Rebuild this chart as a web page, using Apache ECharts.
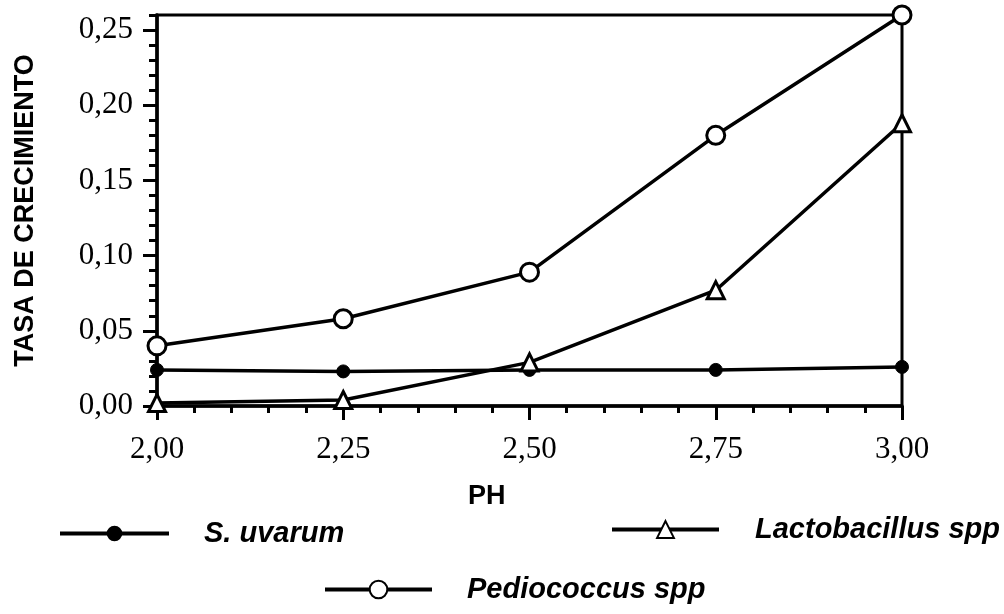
<!DOCTYPE html>
<html>
<head>
<meta charset="utf-8">
<script src="https://cdn.jsdelivr.net/npm/echarts@6/dist/echarts.min.js"></script>
<style>
html,body{margin:0;padding:0;background:#fff;}
#chart{width:1004px;height:614px;}
</style>
</head>
<body>
<div id="chart"></div>
<script>
// pH values (x)
const phValues = [2.00, 2.25, 2.50, 2.75, 3.00];
// Series values (tasa de crecimiento)
const sUvarum = [0.024, 0.023, 0.024, 0.024, 0.026];
const lactobacillus = [0.002, 0.004, 0.029, 0.077, 0.188];
const pediococcus = [0.040, 0.058, 0.089, 0.180, 0.260];
const seriesNames = ['S. uvarum', 'Lactobacillus spp', 'Pediococcus spp'];
const yMajorTicks = [0, 0.05, 0.10, 0.15, 0.20, 0.25];
const xTitle = 'PH';
const yTitle = 'TASA DE CRECIMIENTO';

function pairs(vals){ return phValues.map((x,i)=>[x, vals[i]]); }
const fmt = v => v.toFixed(2).replace('.', ',');

const chart = echarts.init(document.getElementById('chart'), null, {renderer:'canvas'});
const serifFont = "'Liberation Serif', 'Times New Roman', serif";
const sansFont = "'Liberation Sans', Arial, sans-serif";

const lineStyle = {color:'#000', width:3.5};
const legendText = {fontFamily:sansFont, fontWeight:'bold', fontStyle:'italic', fontSize:29, color:'#000', padding:[0,0,0,30]};
chart.setOption({
  backgroundColor:'#fff',
  animation:false,
  grid:{left:157, right:102, top:15, bottom:208, show:true, borderColor:'#000', borderWidth:3, backgroundColor:'transparent', containLabel:false},
  xAxis:{
    type:'value', min:2, max:3, interval:0.25,
    axisLine:{show:true, lineStyle:{color:'#000', width:3.5}},
    axisTick:{show:true, length:14, lineStyle:{color:'#000', width:3}},
    minorTick:{show:true, splitNumber:5, length:7, lineStyle:{color:'#000', width:3}},
    splitLine:{show:false},
    axisLabel:{formatter:fmt, color:'#000', fontFamily:serifFont, fontSize:31, margin:28}
  },
  yAxis:[{
    type:'value', min:0, max:0.26, interval:0.01,
    name:yTitle, nameLocation:'middle', nameGap:118, nameRotate:90,
    nameTextStyle:{color:'#000', fontFamily:sansFont, fontWeight:'bold', fontSize:27},
    axisLine:{show:true, lineStyle:{color:'#000', width:3.5}},
    axisTick:{show:true, length:8, lineStyle:{color:'#000', width:3}},
    splitLine:{show:false},
    axisLabel:{
      color:'#000', fontFamily:serifFont, fontSize:31, margin:24,
      formatter:v => (Math.round(v*100) % 5 === 0 && v <= 0.25 + 1e-9) ? fmt(v) : ''
    }
  },{
    type:'value', min:0, max:0.26, position:'left', offset:0,
    axisLine:{show:false},
    axisTick:{show:true, length:14, customValues:yMajorTicks, lineStyle:{color:'#000', width:3}},
    axisLabel:{show:false},
    splitLine:{show:false}
  }],
  legend:[
    {data:[seriesNames[0]], left:53, top:514, itemWidth:109, itemHeight:17,
     lineStyle:{width:4}, textStyle:legendText},
    {data:[seriesNames[1]], left:605, top:510, itemWidth:107, itemHeight:21,
     lineStyle:{width:4}, textStyle:Object.assign({}, legendText, {padding:[0,0,0,31]})},
    {data:[seriesNames[2]], left:318, top:570, itemWidth:107, itemHeight:22,
     lineStyle:{width:4}, textStyle:legendText}
  ],
  graphic:[{
    type:'text', left:468, top:483,
    style:{text:xTitle, fill:'#000', font:"bold 27px 'Liberation Sans', Arial, sans-serif"}
  }],
  series:[
    {name:seriesNames[0], type:'line', data:pairs(sUvarum), clip:false,
     symbol:'circle', symbolSize:13, lineStyle:lineStyle,
     itemStyle:{color:'#000', borderColor:'#000', borderWidth:1}},
    {name:seriesNames[1], type:'line', data:pairs(lactobacillus), clip:false,
     symbol:'triangle', symbolSize:17, lineStyle:lineStyle,
     itemStyle:{color:'#fff', borderColor:'#000', borderWidth:3}, z:3},
    {name:seriesNames[2], type:'line', data:pairs(pediococcus), clip:false,
     symbol:'circle', symbolSize:18, lineStyle:lineStyle,
     itemStyle:{color:'#fff', borderColor:'#000', borderWidth:3}, z:4}
  ]
});
</script>
</body>
</html>
